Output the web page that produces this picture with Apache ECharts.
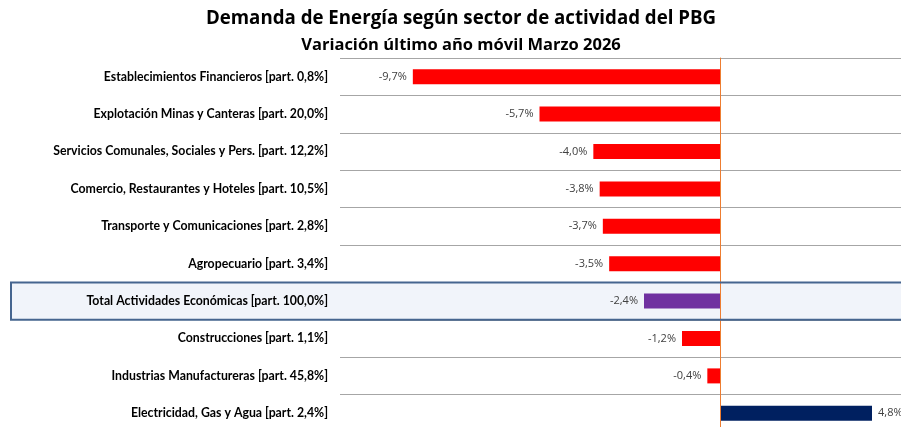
<!DOCTYPE html>
<html>
<head>
<meta charset="utf-8">
<script src="https://cdn.jsdelivr.net/npm/echarts@6/dist/echarts.min.js"></script>
<style>
  html, body { margin: 0; padding: 0; background: #fff; overflow: hidden; }
  #chart { width: 922px; height: 440px; }
</style>
</head>
<body>
<div id="chart"></div>
<script>
// sectores, de arriba hacia abajo
var sectores = [
    'Establecimientos Financieros [part. 0,8%]',
    'Explotación Minas y Canteras [part. 20,0%]',
    'Servicios Comunales, Sociales y Pers. [part. 12,2%]',
    'Comercio, Restaurantes y Hoteles [part. 10,5%]',
    'Transporte y Comunicaciones [part. 2,8%]',
    'Agropecuario [part. 3,4%]',
    'Total Actividades Económicas [part. 100,0%]',
    'Construcciones [part. 1,1%]',
    'Industrias Manufactureras [part. 45,8%]',
    'Electricidad, Gas y Agua [part. 2,4%]'
];
// variación % último año móvil
var variacion = [-9.7, -5.7, -4.0, -3.8, -3.7, -3.5, -2.4, -1.2, -0.4, 4.8];

var filaTotal = 'Total Actividades Económicas [part. 100,0%]';

function colorBarra(nombre, v) {
    if (nombre == filaTotal) return '#7030A0';
    if (v >= 0) return '#002060';
    return '#FF0000';
}

function fmt(v) {
    return v.toFixed(1).replace('.', ',') + '%';
}

var datos = [];
for (var i = 0; i < sectores.length; i++) {
    datos.push({
        value: variacion[i],
        itemStyle: { color: colorBarra(sectores[i], variacion[i]) },
        label: { position: variacion[i] < 0 ? 'left' : 'right' }
    });
}

var myChart = echarts.init(document.getElementById('chart'));
var option = {
    animation: false,
    title: [
        {
            text: 'Demanda de Energía según sector de actividad del PBG',
            left: 'center',
            top: 4,
            textStyle: { fontFamily: 'Open Sans', fontWeight: 'bold', fontSize: 18.7, color: '#000' }
        },
        {
            text: 'Variación último año móvil Marzo 2026',
            left: 'center',
            top: 32,
            textStyle: { fontFamily: 'Open Sans', fontWeight: 'bold', fontSize: 16.5, color: '#000' }
        }
    ],
    grid: {
        left: 340,
        top: 58,
        width: 570,
        height: 374,
        containLabel: false
    },
    xAxis: {
        type: 'value',
        min: -12,
        max: 6,
        axisLine: { show: false },
        axisTick: { show: false },
        axisLabel: { show: false },
        splitLine: { show: false }
    },
    yAxis: {
        type: 'category',
        inverse: true,
        data: sectores,
        axisLine: { show: true, onZero: true, lineStyle: { color: '#ED7D31', width: 1 } },
        axisTick: { show: false },
        splitLine: { show: true, lineStyle: { color: '#A6A6A6', width: 1 } },
        axisLabel: {
            margin: 12,
            fontFamily: 'Lato',
            fontWeight: 'bold',
            fontSize: 12.3,
            color: '#000'
        },
        z: 3
    },
    series: [
        {
            type: 'bar',
            barWidth: 15,
            data: datos,
            label: {
                show: true,
                distance: 6,
                fontFamily: 'Open Sans',
                fontSize: 11,
                color: '#404040',
                formatter: function (p) { return fmt(p.value); }
            }
        }
    ]
};
myChart.setOption(option);

// recuadro de la fila Total
var yc = myChart.convertToPixel({ yAxisIndex: 0 }, filaTotal);
var yPrev = myChart.convertToPixel({ yAxisIndex: 0 }, sectores[5]);
var banda = yc - yPrev;
myChart.setOption({
    graphic: [
        {
            type: 'rect',
            z: -10,
            shape: { x: 10, y: yc - banda / 2, width: 920, height: banda },
            style: { fill: '#F1F4FA' }
        },
        {
            type: 'rect',
            z: 100,
            shape: { x: 11, y: yc - banda / 2, width: 920, height: banda },
            style: { fill: 'none', stroke: '#46658F', lineWidth: 2 }
        }
    ]
});
</script>
</body>
</html>
